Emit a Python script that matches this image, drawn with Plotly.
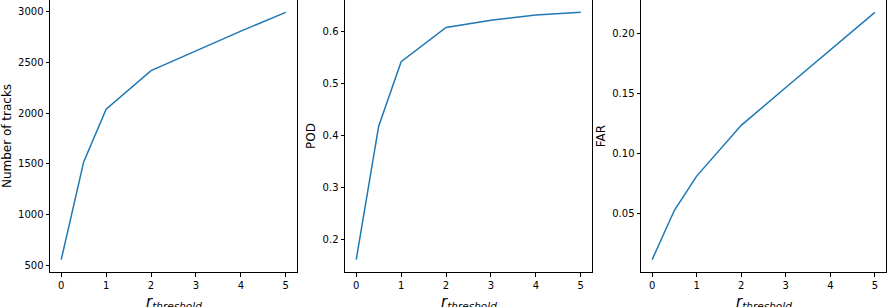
import plotly.graph_objects as go

r_threshold = [0, 0.5, 1, 2, 3, 4, 5]
num_tracks = [556, 1520, 2040, 2420, 2615, 2810, 2995]
pod = [0.161, 0.418, 0.542, 0.608, 0.622, 0.632, 0.637]
far = [0.0117, 0.0528, 0.0812, 0.1235, 0.1550, 0.1865, 0.2175]

ylabels = ["Number of tracks", "POD", "FAR"]
xlabel = "<i>r</i><sub><i>threshold</i></sub>"
series = [num_tracks, pod, far]
dticks = [500, 0.1, 0.05]
tickformats = ["d", ".1f", ".2f"]
xdomains = [(50/888, 297/888), (345/888, 592/888), (641/888, 886/888)]
ydomain = ((307-272)/307, 1.0)

fig = go.Figure()
font = "DejaVu Sans, sans-serif"
for i, (vals, lab) in enumerate(zip(series, ylabels)):
    n = "" if i == 0 else str(i + 1)
    fig.add_trace(go.Scatter(x=r_threshold, y=vals, mode="lines",
                             line=dict(color="#1f77b4", width=1.5),
                             xaxis="x" + n, yaxis="y" + n, showlegend=False))
    lo, hi = min(vals), max(vals)
    pad = (hi - lo) * 0.05
    axis_common = dict(showgrid=False, zeroline=False, showline=True, linecolor="black",
                       linewidth=1, mirror=True, ticks="outside", ticklen=3.5,
                       tickwidth=1, tickcolor="black", automargin=False,
                       tickfont=dict(family=font, size=10, color="black"))
    fig.layout["xaxis" + n] = dict(domain=xdomains[i], anchor="y" + n,
                                   range=[-0.25, 5.25], tickmode="linear", tick0=0, dtick=1,
                                   **axis_common)
    fig.layout["yaxis" + n] = dict(domain=ydomain, anchor="x" + n,
                                   range=[lo - pad, hi + pad], tickmode="linear", tick0=0,
                                   dtick=dticks[i], tickformat=tickformats[i],
                                   title=dict(text=lab, font=dict(family=font, size=12, color="black"),
                                              standoff=4),
                                   **axis_common)
    fig.add_annotation(text=xlabel, xref="x" + n + " domain", x=0.5, xanchor="center",
                       yref="paper", y=(307 - 291) / 307, yanchor="top", showarrow=False,
                       font=dict(family=font, size=15, color="black"))

fig.update_layout(width=888, height=307, margin=dict(l=0, r=0, t=0, b=0),
                  plot_bgcolor="white", paper_bgcolor="white",
                  font=dict(family=font, color="black"))
fig.write_html("out.html", config={"displayModeBar": False},
               post_script="document.body.style.margin='0';document.body.style.overflow='hidden';")
